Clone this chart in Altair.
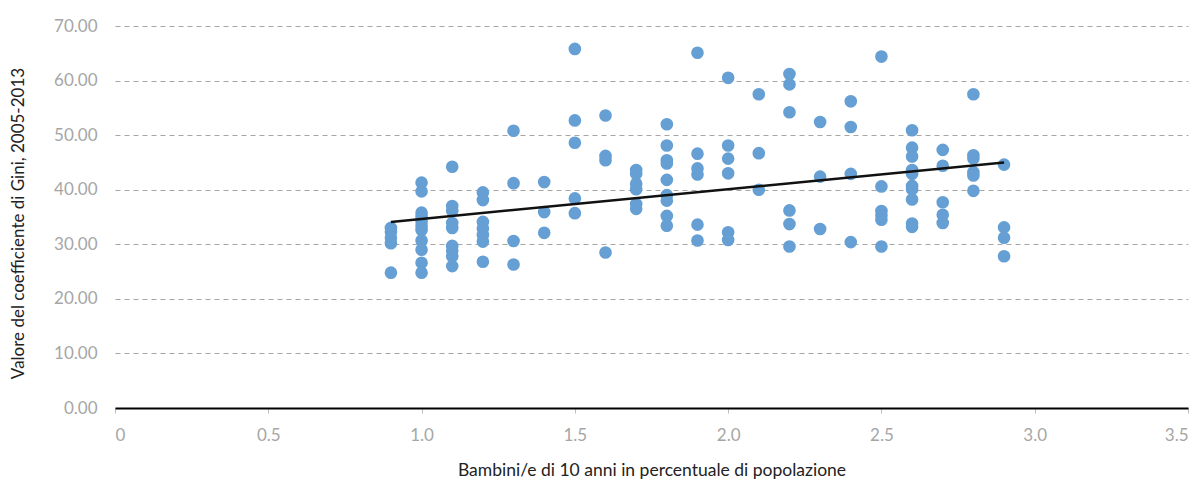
import altair as alt
import pandas as pd

# Share of 10-year-old children in the population (%) and the matching Gini values
child_share = (
    [0.9] * 5 + [1.0] * 11 + [1.1] * 9 + [1.2] * 7 + [1.3] * 4 + [1.4] * 3
    + [1.5] * 5 + [1.6] * 4 + [1.7] * 6 + [1.8] * 9 + [1.9] * 6 + [2.0] * 6
    + [2.1] * 3 + [2.2] * 6 + [2.3] * 3 + [2.4] * 4 + [2.5] * 6 + [2.6] * 10
    + [2.7] * 5 + [2.8] * 6 + [2.9] * 4
)
gini = [
    33.0, 32.3, 31.2, 30.2, 24.8,                                      # 0.9
    41.3, 39.7, 35.8, 35.0, 34.2, 33.4, 32.6, 30.7, 29.0, 26.6, 24.8,  # 1.0
    44.2, 37.0, 36.1, 33.9, 33.0, 29.7, 28.8, 27.8, 26.0,              # 1.1
    39.5, 38.1, 34.1, 32.9, 31.7, 30.5, 26.8,                          # 1.2
    50.8, 41.2, 30.6, 26.3,                                            # 1.3
    41.4, 35.9, 32.1,                                                  # 1.4
    65.8, 52.7, 48.6, 38.4, 35.7,                                      # 1.5
    53.6, 46.2, 45.4, 28.5,                                            # 1.6
    43.6, 42.9, 41.1, 40.1, 37.4, 36.5,                                # 1.7
    52.0, 48.1, 45.4, 44.8, 41.8, 39.0, 38.0, 35.2, 33.4,              # 1.8
    65.1, 46.6, 43.9, 42.8, 33.6, 30.7,                                # 1.9
    60.5, 48.1, 45.7, 43.0, 32.2, 30.8,                                # 2.0
    57.5, 46.7, 40.0,                                                  # 2.1
    61.2, 59.3, 54.2, 36.2, 33.7, 29.6,                                # 2.2
    52.4, 42.4, 32.8,                                                  # 2.3
    56.2, 51.5, 42.9, 30.4,                                            # 2.4
    64.4, 40.6, 36.1, 35.3, 34.5, 29.6,                                # 2.5
    50.9, 47.7, 46.1, 43.6, 42.9, 40.7, 40.1, 38.2, 33.8, 33.2,        # 2.6
    47.3, 44.4, 37.7, 35.4, 33.9,                                      # 2.7
    57.5, 46.3, 45.7, 43.2, 42.6, 39.8,                                # 2.8
    44.6, 33.1, 31.2, 27.8,                                            # 2.9
]

# Linear trend line, endpoints
trend_x = [0.9, 2.9]
trend_y = [34.1, 45.0]

x_ticks = [0, 0.5, 1.0, 1.5, 2.0, 2.5, 3.0, 3.5]
y_ticks = [0, 10, 20, 30, 40, 50, 60, 70]

df = pd.DataFrame({"bambini": child_share, "gini": gini})
trend_df = pd.DataFrame({"bambini": trend_x, "gini": trend_y})

GREY = "#A6A6A6"
FONT = "Lato"

x_enc = alt.X(
    "bambini:Q",
    scale=alt.Scale(domain=[0, 3.5], nice=False, zero=True),
    axis=alt.Axis(
        title="Bambini/e di 10 anni in percentuale di popolazione",
        values=x_ticks,
        labelExpr="datum.value == 0 ? '0' : format(datum.value, '.1f')",
        grid=False,
        domainColor="#000000",
        domainWidth=2,
        tickColor="#BFBFBF",
        tickSize=5,
        labelColor=GREY,
        labelFont=FONT,
        labelFontSize=17,
        labelPadding=14,
        titleFont=FONT,
        titleFontSize=17.5,
        titleFontWeight="normal",
        titleColor="#222222",
        titleY=62,
        titleBaseline="middle",
    ),
)

y_enc = alt.Y(
    "gini:Q",
    scale=alt.Scale(domain=[0, 70], nice=False),
    axis=alt.Axis(
        title="Valore del coefficiente di Gini, 2005-2013",
        values=y_ticks,
        format=".2f",
        grid=True,
        gridColor=GREY,
        gridDash=[5, 4],
        gridWidth=1,
        domain=False,
        ticks=False,
        labelColor=GREY,
        labelFont=FONT,
        labelFontSize=17,
        labelPadding=18,
        titleFont=FONT,
        titleFontSize=17,
        titleFontWeight="normal",
        titleColor="#222222",
        titleX=-97,
        titleY=197,
        titleAngle=-90,
        titleBaseline="middle",
        titleAlign="center",
    ),
)

points = alt.Chart(df).mark_circle(size=160, color="#659FD3", opacity=1).encode(
    x=x_enc, y=y_enc
)

trend = (
    alt.Chart(trend_df)
    .mark_line(color="#111111", strokeWidth=2.5)
    .encode(x="bambini:Q", y="gini:Q")
)

chart = (
    alt.layer(points, trend)
    .properties(
        width=1073,
        height=382,
        autosize=alt.AutoSizeParams(type="none"),
        padding={"left": 115, "top": 26, "right": 14, "bottom": 72},
        background="white",
    )
    .configure_view(stroke=None)
)

chart.save("out.html", embed_options={"renderer": "svg", "actions": False})
